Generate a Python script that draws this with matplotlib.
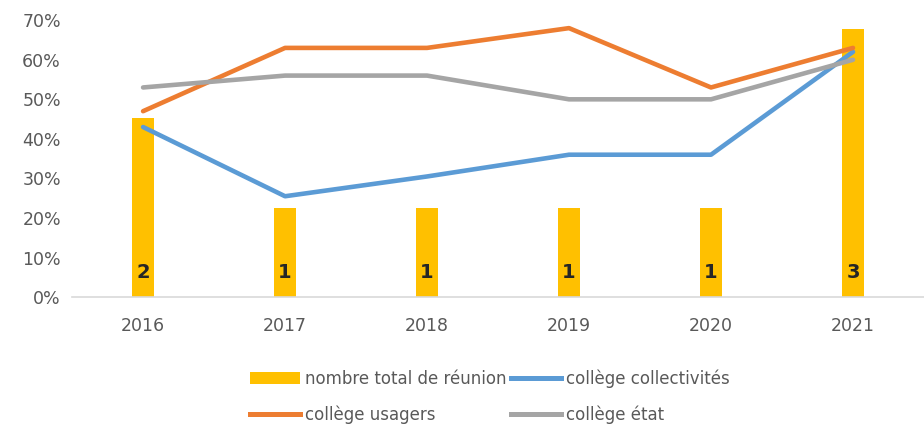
import numpy as np
import matplotlib.pyplot as plt
import matplotlib.transforms as mtransforms
from matplotlib.patches import Patch
from matplotlib.lines import Line2D

plt.rcParams['font.family'] = ['DejaVu Sans']

years = ['2016', '2017', '2018', '2019', '2020', '2021']
reunions = [2, 1, 1, 1, 1, 3]
collectivites = [43, 25.5, 30.5, 36, 36, 62]
usagers = [47, 63, 63, 68, 53, 63]
etat = [53, 56, 56, 50, 50, 60]

C_BAR = '#FFC000'
C_BLUE = '#5B9BD5'
C_ORANGE = '#ED7D31'
C_GRAY = '#A5A5A5'

fig = plt.figure(figsize=(9.24, 4.30), dpi=100, facecolor='white')
ax = fig.add_axes([0.078, 0.309, 0.922, 0.644])
ax2 = ax.twinx()

x = np.arange(len(years))

# bars on hidden secondary axis
ax2.bar(x, reunions, width=0.155, color=C_BAR, zorder=1)
ax2.set_ylim(0, 3.1)
ax2.axis('off')
trans = mtransforms.blended_transform_factory(ax2.transData, ax2.transAxes)
for i, n in enumerate(reunions):
    ax2.text(i, 0.09, str(n), transform=trans, ha='center', va='center',
             fontsize=14, fontweight='bold', color='#262626')

# lines on top
ax.set_zorder(ax2.get_zorder() + 1)
ax.patch.set_visible(False)
lw = 3.3
for vals, col in [(collectivites, C_BLUE), (usagers, C_ORANGE), (etat, C_GRAY)]:
    ax.plot(x, vals, color=col, lw=lw, solid_capstyle='round', solid_joinstyle='round')

ax.set_ylim(0, 70)
ax.set_yticks(range(0, 71, 10))
ax.set_yticklabels([f'{v}%' for v in range(0, 71, 10)])
ax.set_xlim(-0.5, 5.5)
ax.set_xticks(x)
ax.set_xticklabels(years)
ax.tick_params(length=0, labelsize=12.5, colors='#595959')
ax.tick_params(axis='x', pad=14)
ax.tick_params(axis='y', pad=8)
for s in ['top', 'right', 'left']:
    ax.spines[s].set_visible(False)
ax.spines['bottom'].set_color('#D9D9D9')
ax.spines['bottom'].set_linewidth(1.2)

handles = [
    Patch(facecolor=C_BAR, label='nombre total de réunion'),
    Line2D([], [], color=C_ORANGE, lw=3.6, label='collège usagers'),
    Line2D([], [], color=C_BLUE, lw=3.6, label='collège collectivités'),
    Line2D([], [], color=C_GRAY, lw=3.6, label='collège état'),
]
fig.legend(handles=handles, ncol=2, loc='center', bbox_to_anchor=(0.53, 0.077),
           frameon=False, fontsize=12, labelcolor='#595959',
           handlelength=3.0, handleheight=0.7, handletextpad=0.3,
           columnspacing=0.3, labelspacing=1.05)

fig.savefig('out.png', dpi=100, facecolor='white')
